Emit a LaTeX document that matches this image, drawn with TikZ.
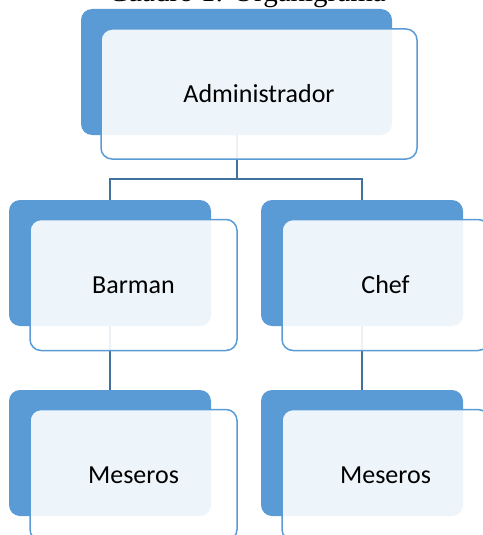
\documentclass[tikz,border=0pt]{standalone}
\usepackage{fontspec}
\setmainfont{Carlito}
\newfontfamily\titlefont{Liberation Serif}
\usetikzlibrary{positioning}
\definecolor{boxblue}{HTML}{5B9BD5}
\definecolor{linkblue}{HTML}{41719C}
\tikzset{
  backbox/.style={rectangle,rounded corners=11pt,fill=boxblue,inner sep=0pt,
    minimum width=202pt,minimum height=126pt},
  frontbox/.style={rectangle,rounded corners=11pt,draw=boxblue,line width=1.5pt,
    fill=white,fill opacity=.9,text opacity=1,inner sep=0pt,
    minimum width=207pt,minimum height=131pt,
    font=\fontsize{26}{30}\selectfont},
  link/.style={draw=linkblue,line width=2pt}
}
\begin{document}
\begin{tikzpicture}[x=1pt,y=-1pt]
\useasboundingbox (0,0) rectangle (482,535);
\node[font=\titlefont\fontsize{29}{33}\selectfont,anchor=base] (titulo) at (247,1.5) {Cuadro 1: Organigrama};
% fondos
\node[backbox,minimum width=311pt] (adm) at (236.5,72) {};
\node[backbox] (barman) at (110,263) {};
\node[backbox] (chef) at (362,263) {};
\node[backbox] (mes1) at (110,453) {};
\node[backbox] (mes2) at (362,453) {};
% lineas
\draw[link] (adm.south) -- ++(0,44) coordinate (bar) -| (barman.north);
\draw[link] (bar) -| (chef.north);
\draw[link] (barman.south) -- (mes1.north);
\draw[link] (chef.south) -- (mes2.north);
% cajas
\node[frontbox,minimum width=316pt,minimum height=130pt] (admT) at ([shift={(22.5,22)}]adm) {Administrador};
\node[frontbox] (barmanT) at ([shift={(23.5,22)}]barman) {Barman};
\node[frontbox] (chefT) at ([shift={(23.5,22)}]chef) {Chef};
\node[frontbox] (mes1T) at ([shift={(23.5,22)}]mes1) {Meseros};
\node[frontbox] (mes2T) at ([shift={(23.5,22)}]mes2) {Meseros};
\end{tikzpicture}
\end{document}
